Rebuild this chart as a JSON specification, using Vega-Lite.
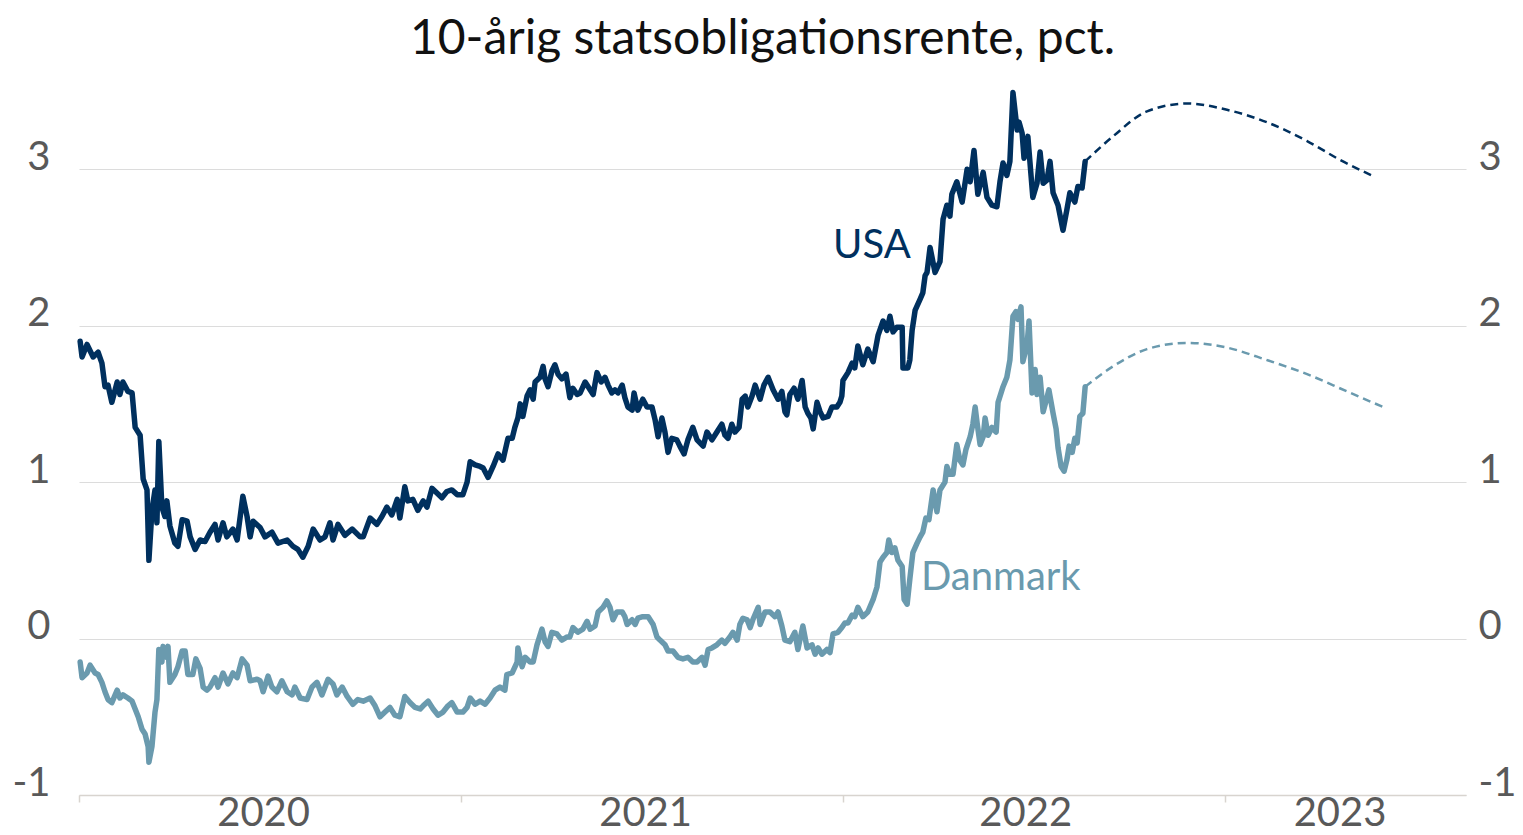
{
  "$schema": "https://vega.github.io/schema/vega-lite/v6.json",
  "width": 1387,
  "height": 704,
  "autosize": {"type": "none"},
  "padding": {"left": 79, "top": 91, "right": 57, "bottom": 40},
  "background": "white",
  "config": {"font": "Lato", "view": {"stroke": null}},
  "title": {"text": "10-årig statsobligationsrente, pct.", "fontSize": 48, "font": "Lato", "fontWeight": "normal", "color": "#111111", "anchor": "middle", "frame": "group", "dx": -10, "offset": -12, "baseline": "alphabetic"},
  "datasets": {
    "faktisk": [
      {"land":"USA","t":2020.003,"v":1.90},{"land":"USA","t":2020.008,"v":1.80},{"land":"USA","t":2020.021,"v":1.88},{"land":"USA","t":2020.037,"v":1.80},{"land":"USA","t":2020.050,"v":1.83},{"land":"USA","t":2020.060,"v":1.76},{"land":"USA","t":2020.068,"v":1.61},{"land":"USA","t":2020.076,"v":1.62},{"land":"USA","t":2020.086,"v":1.51},{"land":"USA","t":2020.100,"v":1.64},{"land":"USA","t":2020.107,"v":1.56},{"land":"USA","t":2020.115,"v":1.64},{"land":"USA","t":2020.128,"v":1.58},{"land":"USA","t":2020.139,"v":1.57},{"land":"USA","t":2020.147,"v":1.35},{"land":"USA","t":2020.160,"v":1.30},{"land":"USA","t":2020.168,"v":1.02},{"land":"USA","t":2020.178,"v":0.95},{"land":"USA","t":2020.183,"v":0.50},{"land":"USA","t":2020.191,"v":0.82},{"land":"USA","t":2020.199,"v":0.95},{"land":"USA","t":2020.204,"v":0.74},{"land":"USA","t":2020.209,"v":1.26},{"land":"USA","t":2020.217,"v":0.84},{"land":"USA","t":2020.225,"v":0.78},{"land":"USA","t":2020.230,"v":0.88},{"land":"USA","t":2020.238,"v":0.72},{"land":"USA","t":2020.251,"v":0.61},{"land":"USA","t":2020.259,"v":0.59},{"land":"USA","t":2020.270,"v":0.76},{"land":"USA","t":2020.283,"v":0.75},{"land":"USA","t":2020.291,"v":0.65},{"land":"USA","t":2020.304,"v":0.57},{"land":"USA","t":2020.317,"v":0.63},{"land":"USA","t":2020.330,"v":0.62},{"land":"USA","t":2020.343,"v":0.68},{"land":"USA","t":2020.356,"v":0.73},{"land":"USA","t":2020.364,"v":0.63},{"land":"USA","t":2020.377,"v":0.74},{"land":"USA","t":2020.387,"v":0.65},{"land":"USA","t":2020.403,"v":0.70},{"land":"USA","t":2020.414,"v":0.63},{"land":"USA","t":2020.429,"v":0.91},{"land":"USA","t":2020.440,"v":0.78},{"land":"USA","t":2020.448,"v":0.65},{"land":"USA","t":2020.456,"v":0.75},{"land":"USA","t":2020.474,"v":0.71},{"land":"USA","t":2020.487,"v":0.65},{"land":"USA","t":2020.505,"v":0.68},{"land":"USA","t":2020.521,"v":0.61},{"land":"USA","t":2020.545,"v":0.63},{"land":"USA","t":2020.560,"v":0.59},{"land":"USA","t":2020.573,"v":0.57},{"land":"USA","t":2020.586,"v":0.52},{"land":"USA","t":2020.600,"v":0.59},{"land":"USA","t":2020.613,"v":0.70},{"land":"USA","t":2020.631,"v":0.63},{"land":"USA","t":2020.644,"v":0.65},{"land":"USA","t":2020.657,"v":0.74},{"land":"USA","t":2020.665,"v":0.63},{"land":"USA","t":2020.678,"v":0.73},{"land":"USA","t":2020.696,"v":0.66},{"land":"USA","t":2020.715,"v":0.70},{"land":"USA","t":2020.736,"v":0.65},{"land":"USA","t":2020.744,"v":0.65},{"land":"USA","t":2020.762,"v":0.77},{"land":"USA","t":2020.780,"v":0.73},{"land":"USA","t":2020.793,"v":0.78},{"land":"USA","t":2020.806,"v":0.84},{"land":"USA","t":2020.819,"v":0.79},{"land":"USA","t":2020.833,"v":0.89},{"land":"USA","t":2020.840,"v":0.77},{"land":"USA","t":2020.853,"v":0.97},{"land":"USA","t":2020.861,"v":0.88},{"land":"USA","t":2020.874,"v":0.89},{"land":"USA","t":2020.887,"v":0.82},{"land":"USA","t":2020.901,"v":0.88},{"land":"USA","t":2020.911,"v":0.84},{"land":"USA","t":2020.924,"v":0.96},{"land":"USA","t":2020.937,"v":0.93},{"land":"USA","t":2020.950,"v":0.90},{"land":"USA","t":2020.963,"v":0.94},{"land":"USA","t":2020.976,"v":0.95},{"land":"USA","t":2020.990,"v":0.92},{"land":"USA","t":2021.005,"v":0.92},{"land":"USA","t":2021.016,"v":1.00},{"land":"USA","t":2021.024,"v":1.13},{"land":"USA","t":2021.037,"v":1.11},{"land":"USA","t":2021.050,"v":1.10},{"land":"USA","t":2021.058,"v":1.09},{"land":"USA","t":2021.071,"v":1.03},{"land":"USA","t":2021.084,"v":1.10},{"land":"USA","t":2021.097,"v":1.18},{"land":"USA","t":2021.110,"v":1.14},{"land":"USA","t":2021.123,"v":1.28},{"land":"USA","t":2021.134,"v":1.28},{"land":"USA","t":2021.141,"v":1.35},{"land":"USA","t":2021.149,"v":1.41},{"land":"USA","t":2021.155,"v":1.50},{"land":"USA","t":2021.162,"v":1.42},{"land":"USA","t":2021.173,"v":1.55},{"land":"USA","t":2021.181,"v":1.59},{"land":"USA","t":2021.189,"v":1.53},{"land":"USA","t":2021.194,"v":1.64},{"land":"USA","t":2021.207,"v":1.67},{"land":"USA","t":2021.215,"v":1.74},{"land":"USA","t":2021.220,"v":1.66},{"land":"USA","t":2021.228,"v":1.61},{"land":"USA","t":2021.238,"v":1.71},{"land":"USA","t":2021.246,"v":1.75},{"land":"USA","t":2021.254,"v":1.69},{"land":"USA","t":2021.264,"v":1.66},{"land":"USA","t":2021.275,"v":1.69},{"land":"USA","t":2021.285,"v":1.54},{"land":"USA","t":2021.293,"v":1.60},{"land":"USA","t":2021.304,"v":1.56},{"land":"USA","t":2021.312,"v":1.57},{"land":"USA","t":2021.325,"v":1.64},{"land":"USA","t":2021.338,"v":1.59},{"land":"USA","t":2021.346,"v":1.56},{"land":"USA","t":2021.356,"v":1.70},{"land":"USA","t":2021.367,"v":1.64},{"land":"USA","t":2021.377,"v":1.67},{"land":"USA","t":2021.385,"v":1.62},{"land":"USA","t":2021.395,"v":1.57},{"land":"USA","t":2021.403,"v":1.59},{"land":"USA","t":2021.411,"v":1.57},{"land":"USA","t":2021.422,"v":1.62},{"land":"USA","t":2021.429,"v":1.54},{"land":"USA","t":2021.437,"v":1.48},{"land":"USA","t":2021.448,"v":1.46},{"land":"USA","t":2021.453,"v":1.57},{"land":"USA","t":2021.463,"v":1.46},{"land":"USA","t":2021.476,"v":1.53},{"land":"USA","t":2021.487,"v":1.48},{"land":"USA","t":2021.500,"v":1.48},{"land":"USA","t":2021.508,"v":1.40},{"land":"USA","t":2021.516,"v":1.29},{"land":"USA","t":2021.526,"v":1.41},{"land":"USA","t":2021.534,"v":1.32},{"land":"USA","t":2021.542,"v":1.19},{"land":"USA","t":2021.552,"v":1.28},{"land":"USA","t":2021.565,"v":1.27},{"land":"USA","t":2021.573,"v":1.23},{"land":"USA","t":2021.584,"v":1.18},{"land":"USA","t":2021.594,"v":1.27},{"land":"USA","t":2021.607,"v":1.35},{"land":"USA","t":2021.618,"v":1.27},{"land":"USA","t":2021.634,"v":1.23},{"land":"USA","t":2021.644,"v":1.32},{"land":"USA","t":2021.657,"v":1.27},{"land":"USA","t":2021.670,"v":1.32},{"land":"USA","t":2021.683,"v":1.37},{"land":"USA","t":2021.691,"v":1.30},{"land":"USA","t":2021.699,"v":1.28},{"land":"USA","t":2021.709,"v":1.37},{"land":"USA","t":2021.717,"v":1.32},{"land":"USA","t":2021.728,"v":1.35},{"land":"USA","t":2021.736,"v":1.53},{"land":"USA","t":2021.744,"v":1.55},{"land":"USA","t":2021.751,"v":1.48},{"land":"USA","t":2021.762,"v":1.55},{"land":"USA","t":2021.770,"v":1.62},{"land":"USA","t":2021.783,"v":1.53},{"land":"USA","t":2021.793,"v":1.62},{"land":"USA","t":2021.804,"v":1.67},{"land":"USA","t":2021.817,"v":1.59},{"land":"USA","t":2021.830,"v":1.53},{"land":"USA","t":2021.840,"v":1.58},{"land":"USA","t":2021.848,"v":1.45},{"land":"USA","t":2021.853,"v":1.43},{"land":"USA","t":2021.861,"v":1.56},{"land":"USA","t":2021.872,"v":1.60},{"land":"USA","t":2021.882,"v":1.53},{"land":"USA","t":2021.893,"v":1.65},{"land":"USA","t":2021.901,"v":1.48},{"land":"USA","t":2021.908,"v":1.44},{"land":"USA","t":2021.916,"v":1.41},{"land":"USA","t":2021.922,"v":1.34},{"land":"USA","t":2021.932,"v":1.51},{"land":"USA","t":2021.940,"v":1.45},{"land":"USA","t":2021.948,"v":1.41},{"land":"USA","t":2021.961,"v":1.42},{"land":"USA","t":2021.971,"v":1.48},{"land":"USA","t":2021.984,"v":1.48},{"land":"USA","t":2021.992,"v":1.51},{"land":"USA","t":2021.997,"v":1.55},{"land":"USA","t":2022.000,"v":1.65},{"land":"USA","t":2022.013,"v":1.70},{"land":"USA","t":2022.024,"v":1.76},{"land":"USA","t":2022.031,"v":1.73},{"land":"USA","t":2022.039,"v":1.87},{"land":"USA","t":2022.052,"v":1.75},{"land":"USA","t":2022.065,"v":1.85},{"land":"USA","t":2022.079,"v":1.77},{"land":"USA","t":2022.092,"v":1.94},{"land":"USA","t":2022.105,"v":2.03},{"land":"USA","t":2022.115,"v":1.97},{"land":"USA","t":2022.123,"v":2.06},{"land":"USA","t":2022.131,"v":1.96},{"land":"USA","t":2022.141,"v":1.99},{"land":"USA","t":2022.155,"v":1.99},{"land":"USA","t":2022.157,"v":1.73},{"land":"USA","t":2022.170,"v":1.73},{"land":"USA","t":2022.175,"v":1.78},{"land":"USA","t":2022.181,"v":1.97},{"land":"USA","t":2022.189,"v":2.10},{"land":"USA","t":2022.202,"v":2.17},{"land":"USA","t":2022.209,"v":2.21},{"land":"USA","t":2022.215,"v":2.32},{"land":"USA","t":2022.220,"v":2.34},{"land":"USA","t":2022.228,"v":2.50},{"land":"USA","t":2022.241,"v":2.34},{"land":"USA","t":2022.254,"v":2.41},{"land":"USA","t":2022.262,"v":2.68},{"land":"USA","t":2022.272,"v":2.77},{"land":"USA","t":2022.280,"v":2.70},{"land":"USA","t":2022.285,"v":2.84},{"land":"USA","t":2022.298,"v":2.92},{"land":"USA","t":2022.312,"v":2.79},{"land":"USA","t":2022.325,"v":3.00},{"land":"USA","t":2022.333,"v":2.92},{"land":"USA","t":2022.343,"v":3.12},{"land":"USA","t":2022.353,"v":2.84},{"land":"USA","t":2022.367,"v":2.98},{"land":"USA","t":2022.377,"v":2.82},{"land":"USA","t":2022.390,"v":2.77},{"land":"USA","t":2022.403,"v":2.76},{"land":"USA","t":2022.411,"v":2.92},{"land":"USA","t":2022.419,"v":3.04},{"land":"USA","t":2022.429,"v":2.96},{"land":"USA","t":2022.437,"v":3.05},{"land":"USA","t":2022.445,"v":3.49},{"land":"USA","t":2022.456,"v":3.25},{"land":"USA","t":2022.461,"v":3.30},{"land":"USA","t":2022.469,"v":3.23},{"land":"USA","t":2022.474,"v":3.07},{"land":"USA","t":2022.484,"v":3.21},{"land":"USA","t":2022.497,"v":2.82},{"land":"USA","t":2022.508,"v":2.91},{"land":"USA","t":2022.516,"v":3.11},{"land":"USA","t":2022.524,"v":2.91},{"land":"USA","t":2022.534,"v":2.93},{"land":"USA","t":2022.542,"v":3.05},{"land":"USA","t":2022.550,"v":2.85},{"land":"USA","t":2022.563,"v":2.77},{"land":"USA","t":2022.576,"v":2.61},{"land":"USA","t":2022.586,"v":2.74},{"land":"USA","t":2022.594,"v":2.85},{"land":"USA","t":2022.607,"v":2.79},{"land":"USA","t":2022.615,"v":2.89},{"land":"USA","t":2022.626,"v":2.88},{"land":"USA","t":2022.634,"v":3.05},
      {"land":"Danmark","t":2020.003,"v":-0.15},{"land":"Danmark","t":2020.008,"v":-0.25},{"land":"Danmark","t":2020.021,"v":-0.22},{"land":"Danmark","t":2020.029,"v":-0.17},{"land":"Danmark","t":2020.042,"v":-0.22},{"land":"Danmark","t":2020.050,"v":-0.23},{"land":"Danmark","t":2020.060,"v":-0.28},{"land":"Danmark","t":2020.068,"v":-0.34},{"land":"Danmark","t":2020.076,"v":-0.39},{"land":"Danmark","t":2020.086,"v":-0.41},{"land":"Danmark","t":2020.100,"v":-0.33},{"land":"Danmark","t":2020.107,"v":-0.38},{"land":"Danmark","t":2020.115,"v":-0.36},{"land":"Danmark","t":2020.128,"v":-0.38},{"land":"Danmark","t":2020.139,"v":-0.40},{"land":"Danmark","t":2020.147,"v":-0.45},{"land":"Danmark","t":2020.155,"v":-0.50},{"land":"Danmark","t":2020.165,"v":-0.58},{"land":"Danmark","t":2020.173,"v":-0.61},{"land":"Danmark","t":2020.181,"v":-0.69},{"land":"Danmark","t":2020.183,"v":-0.79},{"land":"Danmark","t":2020.191,"v":-0.69},{"land":"Danmark","t":2020.199,"v":-0.47},{"land":"Danmark","t":2020.204,"v":-0.39},{"land":"Danmark","t":2020.209,"v":-0.07},{"land":"Danmark","t":2020.217,"v":-0.15},{"land":"Danmark","t":2020.220,"v":-0.05},{"land":"Danmark","t":2020.230,"v":-0.12},{"land":"Danmark","t":2020.233,"v":-0.05},{"land":"Danmark","t":2020.238,"v":-0.28},{"land":"Danmark","t":2020.251,"v":-0.23},{"land":"Danmark","t":2020.259,"v":-0.18},{"land":"Danmark","t":2020.270,"v":-0.08},{"land":"Danmark","t":2020.278,"v":-0.08},{"land":"Danmark","t":2020.285,"v":-0.23},{"land":"Danmark","t":2020.298,"v":-0.23},{"land":"Danmark","t":2020.306,"v":-0.13},{"land":"Danmark","t":2020.317,"v":-0.19},{"land":"Danmark","t":2020.325,"v":-0.31},{"land":"Danmark","t":2020.335,"v":-0.33},{"land":"Danmark","t":2020.343,"v":-0.31},{"land":"Danmark","t":2020.356,"v":-0.25},{"land":"Danmark","t":2020.364,"v":-0.31},{"land":"Danmark","t":2020.377,"v":-0.22},{"land":"Danmark","t":2020.390,"v":-0.29},{"land":"Danmark","t":2020.403,"v":-0.22},{"land":"Danmark","t":2020.414,"v":-0.25},{"land":"Danmark","t":2020.427,"v":-0.13},{"land":"Danmark","t":2020.440,"v":-0.17},{"land":"Danmark","t":2020.448,"v":-0.27},{"land":"Danmark","t":2020.466,"v":-0.26},{"land":"Danmark","t":2020.474,"v":-0.27},{"land":"Danmark","t":2020.482,"v":-0.34},{"land":"Danmark","t":2020.495,"v":-0.24},{"land":"Danmark","t":2020.505,"v":-0.31},{"land":"Danmark","t":2020.518,"v":-0.34},{"land":"Danmark","t":2020.531,"v":-0.27},{"land":"Danmark","t":2020.545,"v":-0.34},{"land":"Danmark","t":2020.558,"v":-0.36},{"land":"Danmark","t":2020.565,"v":-0.31},{"land":"Danmark","t":2020.579,"v":-0.38},{"land":"Danmark","t":2020.597,"v":-0.39},{"land":"Danmark","t":2020.610,"v":-0.31},{"land":"Danmark","t":2020.623,"v":-0.28},{"land":"Danmark","t":2020.636,"v":-0.36},{"land":"Danmark","t":2020.652,"v":-0.26},{"land":"Danmark","t":2020.665,"v":-0.29},{"land":"Danmark","t":2020.675,"v":-0.36},{"land":"Danmark","t":2020.689,"v":-0.31},{"land":"Danmark","t":2020.702,"v":-0.37},{"land":"Danmark","t":2020.717,"v":-0.42},{"land":"Danmark","t":2020.730,"v":-0.39},{"land":"Danmark","t":2020.744,"v":-0.40},{"land":"Danmark","t":2020.762,"v":-0.38},{"land":"Danmark","t":2020.775,"v":-0.43},{"land":"Danmark","t":2020.788,"v":-0.50},{"land":"Danmark","t":2020.801,"v":-0.47},{"land":"Danmark","t":2020.814,"v":-0.44},{"land":"Danmark","t":2020.827,"v":-0.49},{"land":"Danmark","t":2020.840,"v":-0.50},{"land":"Danmark","t":2020.853,"v":-0.37},{"land":"Danmark","t":2020.867,"v":-0.41},{"land":"Danmark","t":2020.880,"v":-0.44},{"land":"Danmark","t":2020.893,"v":-0.45},{"land":"Danmark","t":2020.901,"v":-0.43},{"land":"Danmark","t":2020.914,"v":-0.40},{"land":"Danmark","t":2020.927,"v":-0.45},{"land":"Danmark","t":2020.940,"v":-0.49},{"land":"Danmark","t":2020.953,"v":-0.47},{"land":"Danmark","t":2020.966,"v":-0.43},{"land":"Danmark","t":2020.976,"v":-0.41},{"land":"Danmark","t":2020.990,"v":-0.47},{"land":"Danmark","t":2021.005,"v":-0.47},{"land":"Danmark","t":2021.016,"v":-0.44},{"land":"Danmark","t":2021.024,"v":-0.38},{"land":"Danmark","t":2021.037,"v":-0.42},{"land":"Danmark","t":2021.050,"v":-0.40},{"land":"Danmark","t":2021.063,"v":-0.42},{"land":"Danmark","t":2021.076,"v":-0.38},{"land":"Danmark","t":2021.089,"v":-0.33},{"land":"Danmark","t":2021.102,"v":-0.31},{"land":"Danmark","t":2021.115,"v":-0.33},{"land":"Danmark","t":2021.120,"v":-0.23},{"land":"Danmark","t":2021.134,"v":-0.22},{"land":"Danmark","t":2021.147,"v":-0.15},{"land":"Danmark","t":2021.149,"v":-0.06},{"land":"Danmark","t":2021.160,"v":-0.18},{"land":"Danmark","t":2021.168,"v":-0.12},{"land":"Danmark","t":2021.181,"v":-0.15},{"land":"Danmark","t":2021.189,"v":-0.15},{"land":"Danmark","t":2021.199,"v":-0.04},{"land":"Danmark","t":2021.212,"v":0.06},{"land":"Danmark","t":2021.220,"v":-0.02},{"land":"Danmark","t":2021.228,"v":-0.05},{"land":"Danmark","t":2021.238,"v":0.04},{"land":"Danmark","t":2021.251,"v":0.03},{"land":"Danmark","t":2021.264,"v":-0.01},{"land":"Danmark","t":2021.278,"v":0.01},{"land":"Danmark","t":2021.285,"v":0.01},{"land":"Danmark","t":2021.293,"v":0.07},{"land":"Danmark","t":2021.306,"v":0.04},{"land":"Danmark","t":2021.319,"v":0.06},{"land":"Danmark","t":2021.330,"v":0.11},{"land":"Danmark","t":2021.338,"v":0.06},{"land":"Danmark","t":2021.351,"v":0.08},{"land":"Danmark","t":2021.359,"v":0.17},{"land":"Danmark","t":2021.372,"v":0.20},{"land":"Danmark","t":2021.382,"v":0.24},{"land":"Danmark","t":2021.390,"v":0.20},{"land":"Danmark","t":2021.398,"v":0.12},{"land":"Danmark","t":2021.408,"v":0.17},{"land":"Danmark","t":2021.422,"v":0.17},{"land":"Danmark","t":2021.429,"v":0.14},{"land":"Danmark","t":2021.435,"v":0.09},{"land":"Danmark","t":2021.448,"v":0.12},{"land":"Danmark","t":2021.456,"v":0.09},{"land":"Danmark","t":2021.463,"v":0.13},{"land":"Danmark","t":2021.476,"v":0.14},{"land":"Danmark","t":2021.490,"v":0.14},{"land":"Danmark","t":2021.503,"v":0.09},{"land":"Danmark","t":2021.513,"v":0.01},{"land":"Danmark","t":2021.521,"v":-0.01},{"land":"Danmark","t":2021.534,"v":-0.04},{"land":"Danmark","t":2021.542,"v":-0.08},{"land":"Danmark","t":2021.555,"v":-0.08},{"land":"Danmark","t":2021.568,"v":-0.12},{"land":"Danmark","t":2021.581,"v":-0.13},{"land":"Danmark","t":2021.594,"v":-0.12},{"land":"Danmark","t":2021.607,"v":-0.15},{"land":"Danmark","t":2021.618,"v":-0.15},{"land":"Danmark","t":2021.631,"v":-0.12},{"land":"Danmark","t":2021.639,"v":-0.17},{"land":"Danmark","t":2021.647,"v":-0.07},{"land":"Danmark","t":2021.657,"v":-0.06},{"land":"Danmark","t":2021.670,"v":-0.04},{"land":"Danmark","t":2021.683,"v":-0.01},{"land":"Danmark","t":2021.691,"v":-0.03},{"land":"Danmark","t":2021.704,"v":0.01},{"land":"Danmark","t":2021.712,"v":0.04},{"land":"Danmark","t":2021.723,"v":-0.01},{"land":"Danmark","t":2021.730,"v":0.09},{"land":"Danmark","t":2021.738,"v":0.13},{"land":"Danmark","t":2021.749,"v":0.12},{"land":"Danmark","t":2021.757,"v":0.07},{"land":"Danmark","t":2021.764,"v":0.12},{"land":"Danmark","t":2021.778,"v":0.20},{"land":"Danmark","t":2021.783,"v":0.09},{"land":"Danmark","t":2021.796,"v":0.17},{"land":"Danmark","t":2021.809,"v":0.17},{"land":"Danmark","t":2021.822,"v":0.14},{"land":"Danmark","t":2021.830,"v":0.17},{"land":"Danmark","t":2021.840,"v":0.08},{"land":"Danmark","t":2021.848,"v":-0.01},{"land":"Danmark","t":2021.861,"v":-0.02},{"land":"Danmark","t":2021.874,"v":0.04},{"land":"Danmark","t":2021.882,"v":-0.07},{"land":"Danmark","t":2021.895,"v":0.08},{"land":"Danmark","t":2021.906,"v":-0.06},{"land":"Danmark","t":2021.919,"v":-0.04},{"land":"Danmark","t":2021.927,"v":-0.10},{"land":"Danmark","t":2021.935,"v":-0.06},{"land":"Danmark","t":2021.945,"v":-0.10},{"land":"Danmark","t":2021.958,"v":-0.07},{"land":"Danmark","t":2021.966,"v":-0.09},{"land":"Danmark","t":2021.974,"v":0.03},{"land":"Danmark","t":2021.987,"v":0.04},{"land":"Danmark","t":2021.997,"v":0.07},{"land":"Danmark","t":2022.005,"v":0.10},{"land":"Danmark","t":2022.013,"v":0.10},{"land":"Danmark","t":2022.024,"v":0.15},{"land":"Danmark","t":2022.031,"v":0.14},{"land":"Danmark","t":2022.039,"v":0.20},{"land":"Danmark","t":2022.052,"v":0.14},{"land":"Danmark","t":2022.065,"v":0.17},{"land":"Danmark","t":2022.079,"v":0.25},{"land":"Danmark","t":2022.089,"v":0.33},{"land":"Danmark","t":2022.097,"v":0.49},{"land":"Danmark","t":2022.105,"v":0.52},{"land":"Danmark","t":2022.115,"v":0.55},{"land":"Danmark","t":2022.120,"v":0.63},{"land":"Danmark","t":2022.128,"v":0.55},{"land":"Danmark","t":2022.136,"v":0.58},{"land":"Danmark","t":2022.144,"v":0.50},{"land":"Danmark","t":2022.155,"v":0.46},{"land":"Danmark","t":2022.160,"v":0.25},{"land":"Danmark","t":2022.168,"v":0.22},{"land":"Danmark","t":2022.175,"v":0.38},{"land":"Danmark","t":2022.183,"v":0.55},{"land":"Danmark","t":2022.194,"v":0.61},{"land":"Danmark","t":2022.202,"v":0.65},{"land":"Danmark","t":2022.209,"v":0.68},{"land":"Danmark","t":2022.217,"v":0.77},{"land":"Danmark","t":2022.225,"v":0.76},{"land":"Danmark","t":2022.236,"v":0.95},{"land":"Danmark","t":2022.246,"v":0.81},{"land":"Danmark","t":2022.254,"v":0.95},{"land":"Danmark","t":2022.267,"v":1.00},{"land":"Danmark","t":2022.272,"v":1.10},{"land":"Danmark","t":2022.280,"v":1.05},{"land":"Danmark","t":2022.288,"v":1.05},{"land":"Danmark","t":2022.298,"v":1.24},{"land":"Danmark","t":2022.306,"v":1.14},{"land":"Danmark","t":2022.314,"v":1.11},{"land":"Danmark","t":2022.322,"v":1.21},{"land":"Danmark","t":2022.333,"v":1.29},{"land":"Danmark","t":2022.340,"v":1.37},{"land":"Danmark","t":2022.346,"v":1.48},{"land":"Danmark","t":2022.351,"v":1.38},{"land":"Danmark","t":2022.359,"v":1.24},{"land":"Danmark","t":2022.367,"v":1.29},{"land":"Danmark","t":2022.372,"v":1.41},{"land":"Danmark","t":2022.380,"v":1.30},{"land":"Danmark","t":2022.390,"v":1.35},{"land":"Danmark","t":2022.401,"v":1.32},{"land":"Danmark","t":2022.406,"v":1.51},{"land":"Danmark","t":2022.419,"v":1.61},{"land":"Danmark","t":2022.429,"v":1.67},{"land":"Danmark","t":2022.437,"v":1.78},{"land":"Danmark","t":2022.445,"v":2.06},{"land":"Danmark","t":2022.453,"v":2.09},{"land":"Danmark","t":2022.458,"v":2.04},{"land":"Danmark","t":2022.466,"v":2.12},{"land":"Danmark","t":2022.471,"v":1.77},{"land":"Danmark","t":2022.482,"v":1.88},{"land":"Danmark","t":2022.487,"v":2.03},{"land":"Danmark","t":2022.495,"v":1.57},{"land":"Danmark","t":2022.503,"v":1.72},{"land":"Danmark","t":2022.508,"v":1.56},{"land":"Danmark","t":2022.516,"v":1.67},{"land":"Danmark","t":2022.524,"v":1.45},{"land":"Danmark","t":2022.534,"v":1.54},{"land":"Danmark","t":2022.539,"v":1.59},{"land":"Danmark","t":2022.550,"v":1.44},{"land":"Danmark","t":2022.558,"v":1.34},{"land":"Danmark","t":2022.563,"v":1.22},{"land":"Danmark","t":2022.571,"v":1.10},{"land":"Danmark","t":2022.579,"v":1.07},{"land":"Danmark","t":2022.586,"v":1.14},{"land":"Danmark","t":2022.592,"v":1.23},{"land":"Danmark","t":2022.600,"v":1.19},{"land":"Danmark","t":2022.607,"v":1.28},{"land":"Danmark","t":2022.613,"v":1.25},{"land":"Danmark","t":2022.620,"v":1.42},{"land":"Danmark","t":2022.628,"v":1.44},{"land":"Danmark","t":2022.634,"v":1.61}
    ],
    "prognose": [
      {"land":"USA","t":2022.634,"v":3.05},{"land":"USA","t":2022.707,"v":3.21},{"land":"USA","t":2022.796,"v":3.37},{"land":"USA","t":2022.901,"v":3.42},{"land":"USA","t":2023.005,"v":3.38},{"land":"USA","t":2023.110,"v":3.30},{"land":"USA","t":2023.215,"v":3.18},{"land":"USA","t":2023.301,"v":3.06},{"land":"USA","t":2023.393,"v":2.95},
      {"land":"Danmark","t":2022.634,"v":1.61},{"land":"Danmark","t":2022.707,"v":1.74},{"land":"Danmark","t":2022.796,"v":1.85},{"land":"Danmark","t":2022.901,"v":1.89},{"land":"Danmark","t":2023.005,"v":1.86},{"land":"Danmark","t":2023.110,"v":1.78},{"land":"Danmark","t":2023.215,"v":1.69},{"land":"Danmark","t":2023.319,"v":1.58},{"land":"Danmark","t":2023.414,"v":1.48}
    ],
    "etiketter": [
      {"land":"USA","t":2021.974,"v":2.434,"tekst":"USA"},
      {"land":"Danmark","t":2022.204,"v":0.313,"tekst":"Danmark"}
    ]
  },
  "layer": [
    {
      "data": {"name": "faktisk"},
      "mark": {"type": "line", "strokeWidth": 5.5, "strokeJoin": "round", "strokeCap": "round"},
      "encoding": {
        "x": {"field": "t", "type": "quantitative", "scale": {"domain": [2020, 2023.631], "nice": false, "zero": false},
          "axis": {"orient": "bottom", "values": [2020, 2021, 2022, 2023], "title": null, "grid": false, "labels": false, "domain": true, "domainColor": "#d8d4cf", "domainWidth": 1.5, "ticks": true, "tickColor": "#d8d4cf", "tickSize": 7, "tickWidth": 1.5}},
        "y": {"field": "v", "type": "quantitative", "scale": {"domain": [-1, 3.5], "nice": false, "zero": false},
          "axis": {"orient": "left", "values": [-1, 0, 1, 2, 3], "labelExpr": "'' + datum.value", "title": null, "grid": true, "gridColor": "#dcdcdc", "gridWidth": 1.2, "domain": false, "ticks": false, "labelFont": "Lato", "labelFontSize": 40, "labelColor": "#595959", "labelPadding": 29, "labelAlign": "right", "labelBaseline": "alphabetic", "labelFlush": false, "labelOverlap": false}},
        "color": {"field": "land", "type": "nominal", "scale": {"domain": ["USA", "Danmark"], "range": ["#00305e", "#6a9aae"]}, "legend": null}
      }
    },
    {
      "data": {"name": "prognose"},
      "mark": {"type": "line", "strokeWidth": 2.5, "strokeDash": [8, 5], "interpolate": "monotone"},
      "encoding": {
        "x": {"field": "t", "type": "quantitative",
          "axis": {"orient": "bottom", "values": [2020.482, 2021.482, 2022.477, 2023.3], "labelExpr": "'' + floor(datum.value)", "title": null, "grid": false, "domain": false, "ticks": false, "labelFont": "Lato", "labelFontSize": 40, "labelColor": "#595959", "labelPadding": 30, "labelBaseline": "alphabetic", "labelAlign": "center", "labelOverlap": false, "labelFlush": false, "labelBound": false}},
        "y": {"field": "v", "type": "quantitative",
          "axis": {"orient": "right", "values": [-1, 0, 1, 2, 3], "labelExpr": "'' + datum.value", "title": null, "grid": false, "domain": false, "ticks": false, "labelFont": "Lato", "labelFontSize": 40, "labelColor": "#595959", "labelPadding": 12, "labelAlign": "left", "labelBaseline": "alphabetic", "labelFlush": false, "labelOverlap": false}},
        "color": {"field": "land", "type": "nominal", "legend": null}
      }
    },
    {
      "data": {"name": "etiketter"},
      "mark": {"type": "text", "align": "left", "baseline": "alphabetic", "font": "Lato", "fontSize": 40},
      "encoding": {
        "x": {"field": "t", "type": "quantitative", "axis": null},
        "y": {"field": "v", "type": "quantitative", "axis": null},
        "text": {"field": "tekst"},
        "color": {"field": "land", "type": "nominal", "legend": null}
      }
    }
  ],
  "resolve": {"axis": {"x": "independent", "y": "independent"}}
}
